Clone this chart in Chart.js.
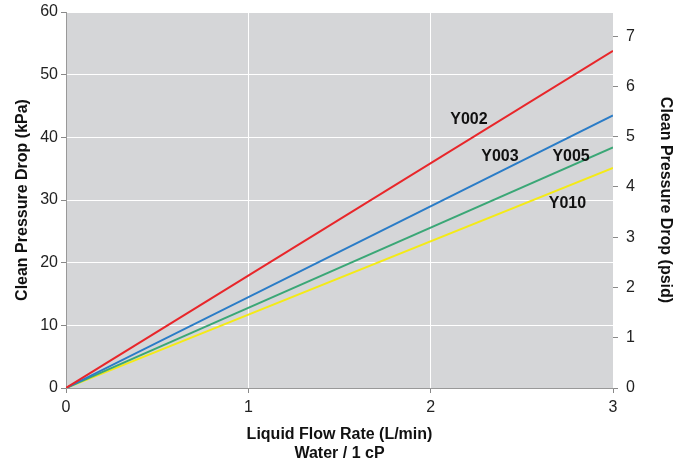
<!DOCTYPE html>
<html>
<head>
<meta charset="utf-8">
<script src="https://cdn.jsdelivr.net/npm/chart.js@4"></script>
<style>
  html, body { margin: 0; padding: 0; background: #fff; }
</style>
</head>
<body>
<canvas id="myChart" width="689" height="466"></canvas>
<script>
// flow rate (L/min) and clean pressure drop (kPa) at the line ends
var flow = [0, 3];
var names = ['Y002', 'Y003', 'Y005', 'Y010'];
var y002 = [0, 53.8];
var y003 = [0, 43.5];
var y005 = [0, 38.4];
var y010 = [0, 35.1];
var colors = ['#e8262a', '#2a7cc7', '#3aa776', '#f4ea16'];
// where each series name sits, in data units
var labelX = [2.21, 2.38, 2.77, 2.75];
var labelY = [42.8, 36.9, 37.0, 29.5];

var series = [y002, y003, y005, y010];
var font = '"Liberation Sans", Arial, sans-serif';

var bgPlugin = {
  id: 'plotBg',
  beforeDraw: function (chart) {
    var a = chart.chartArea, c = chart.ctx;
    c.save();
    c.fillStyle = '#d5d6d8';
    c.fillRect(a.left, a.top, a.right - a.left, a.bottom - a.top);
    c.restore();
  }
};

var namePlugin = {
  id: 'names',
  afterDatasetsDraw: function (chart) {
    var c = chart.ctx, xs = chart.scales.x, ys = chart.scales.y;
    c.save();
    c.font = 'bold 16px ' + font;
    c.fillStyle = '#111';
    c.textAlign = 'center';
    c.textBaseline = 'middle';
    for (var i = 0; i < names.length; i++) {
      c.fillText(names[i], xs.getPixelForValue(labelX[i]), ys.getPixelForValue(labelY[i]));
    }
    c.restore();
  }
};

var ctx = document.getElementById('myChart');
var myChart = new Chart(ctx, {
  type: 'scatter',
  data: {
    datasets: series.map(function (s, i) {
      return {
        label: names[i],
        data: flow.map(function (x, j) { return { x: x, y: s[j] }; }),
        showLine: true,
        borderColor: colors[i],
        borderWidth: 2,
        pointRadius: 0,
        yAxisID: 'y'
      };
    })
  },
  options: {
    responsive: false,
    animation: false,
    maintainAspectRatio: false,
    layout: { padding: { top: 12, right: 0, left: 0, bottom: 0 } },
    plugins: { legend: { display: false }, tooltip: { enabled: false } },
    scales: {
      x: {
        type: 'linear', min: 0, max: 3,
        afterFit: function (s) { s.height = 78; s.paddingLeft = 0; s.paddingRight = 0; },
        ticks: { stepSize: 1, color: '#222', font: { size: 16, family: font }, padding: 5 },
        grid: { color: '#ffffff', lineWidth: 1, tickColor: '#888', tickLength: 5 },
        border: { color: '#999', width: 1 },
        title: {
          display: true,
          text: ['Liquid Flow Rate (L/min)', 'Water / 1 cP'],
          color: '#111',
          font: { size: 16, weight: 'bold', family: font },
          padding: { top: 0, bottom: 3 }
        }
      },
      y: {
        position: 'left', min: 0, max: 60,
        afterFit: function (s) { s.width = 66; s.paddingTop = 0; s.paddingBottom = 0; },
        ticks: { stepSize: 10, color: '#222', font: { size: 16, family: font }, padding: 3 },
        grid: { color: '#ffffff', lineWidth: 1, tickColor: '#888', tickLength: 5 },
        border: { color: '#999', width: 1 },
        title: {
          display: true,
          text: 'Clean Pressure Drop (kPa)',
          color: '#111',
          font: { size: 16, weight: 'bold', family: font },
          padding: { top: 13, bottom: 0 }
        }
      },
      y2: {
        position: 'right', min: 0, max: 7.48,
        afterFit: function (s) { s.width = 76; s.paddingTop = 0; s.paddingBottom = 0; },
        ticks: { stepSize: 1, includeBounds: false, color: '#222', font: { size: 16, family: font }, padding: 8 },
        grid: { drawOnChartArea: false, tickColor: '#888', tickLength: 5 },
        border: { display: false },
        title: {
          display: true,
          text: 'Clean Pressure Drop (psid)',
          color: '#111',
          font: { size: 16, weight: 'bold', family: font },
          padding: { top: 14, bottom: 0 }
        }
      }
    }
  },
  plugins: [bgPlugin, namePlugin]
});
</script>
</body>
</html>
